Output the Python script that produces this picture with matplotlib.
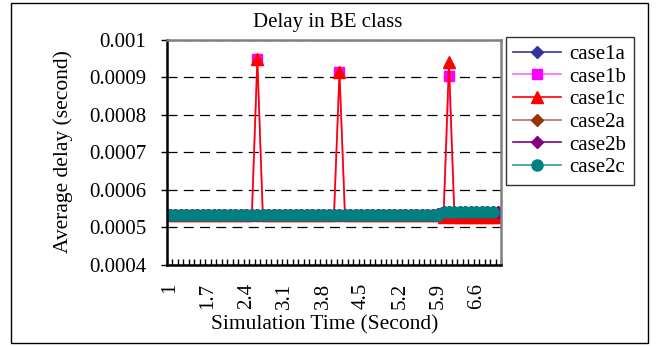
import matplotlib
matplotlib.use('Agg')
import matplotlib.pyplot as plt
import numpy as np
from matplotlib.patches import Rectangle

plt.rcParams['font.family'] = ['Liberation Serif', 'DejaVu Serif']

# Categorias del eje x (tiempo de simulacion)
times = ['1', '1.1', '1.2', '1.3', '1.4', '1.5', '1.6', '1.7', '1.8', '1.9',
         '2', '2.1', '2.2', '2.3', '2.4', '2.5', '2.6', '2.7', '2.8', '2.9',
         '3', '3.1', '3.2', '3.3', '3.4', '3.5', '3.6', '3.7', '3.8', '3.9',
         '4', '4.1', '4.2', '4.3', '4.4', '4.5', '4.6', '4.7', '4.8', '4.9',
         '5', '5.1', '5.2', '5.3', '5.4', '5.5', '5.6', '5.7', '5.8', '5.9',
         '6', '6.1', '6.2', '6.3', '6.4', '6.5', '6.6', '6.7', '6.8', '6.9',
         '7']

case1a = [0.000532, 0.000532, 0.000532, 0.000532, 0.000532, 0.000532, 0.000532, 0.000532, 0.000532, 0.000532,
          0.000532, 0.000532, 0.000532, 0.000532, 0.000532, 0.000532, 0.000532, 0.000532, 0.000532, 0.000532,
          0.000532, 0.000532, 0.000532, 0.000532, 0.000532, 0.000532, 0.000532, 0.000532, 0.000532, 0.000532,
          0.000532, 0.000532, 0.000532, 0.000532, 0.000532, 0.000532, 0.000532, 0.000532, 0.000532, 0.000532,
          0.000532, 0.000532, 0.000532, 0.000532, 0.000532, 0.000532, 0.000532, 0.000532, 0.000532, 0.000532,
          0.000528, 0.000528, 0.000528, 0.000528, 0.000528, 0.000528, 0.000528, 0.000528, 0.000528, 0.000528,
          0.000528]
case1b = [0.000532, 0.000532, 0.000532, 0.000532, 0.000532, 0.000532, 0.000532, 0.000532, 0.000532, 0.000532,
          0.000532, 0.000532, 0.000532, 0.000532, 0.000532, 0.000532, 0.000948, 0.000532, 0.000532, 0.000532,
          0.000532, 0.000532, 0.000532, 0.000532, 0.000532, 0.000532, 0.000532, 0.000532, 0.000532, 0.000532,
          0.000532, 0.000913, 0.000532, 0.000532, 0.000532, 0.000532, 0.000532, 0.000532, 0.000532, 0.000532,
          0.000532, 0.000532, 0.000532, 0.000532, 0.000532, 0.000532, 0.000532, 0.000532, 0.000532, 0.000532,
          0.000528, 0.000903, 0.000528, 0.000528, 0.000528, 0.000528, 0.000528, 0.000528, 0.000528, 0.000528,
          0.000528]
case1c = [0.000532, 0.000532, 0.000532, 0.000532, 0.000532, 0.000532, 0.000532, 0.000532, 0.000532, 0.000532,
          0.000532, 0.000532, 0.000532, 0.000532, 0.000532, 0.000532, 0.000948, 0.000532, 0.000532, 0.000532,
          0.000532, 0.000532, 0.000532, 0.000532, 0.000532, 0.000532, 0.000532, 0.000532, 0.000532, 0.000532,
          0.000532, 0.000913, 0.000532, 0.000532, 0.000532, 0.000532, 0.000532, 0.000532, 0.000532, 0.000532,
          0.000532, 0.000532, 0.000532, 0.000532, 0.000532, 0.000532, 0.000532, 0.000532, 0.000532, 0.000532,
          0.000528, 0.000941, 0.000528, 0.000528, 0.000528, 0.000528, 0.000528, 0.000528, 0.000528, 0.000528,
          0.000528]
case2a = [0.000532, 0.000532, 0.000532, 0.000532, 0.000532, 0.000532, 0.000532, 0.000532, 0.000532, 0.000532,
          0.000532, 0.000532, 0.000532, 0.000532, 0.000532, 0.000532, 0.000532, 0.000532, 0.000532, 0.000532,
          0.000532, 0.000532, 0.000532, 0.000532, 0.000532, 0.000532, 0.000532, 0.000532, 0.000532, 0.000532,
          0.000532, 0.000532, 0.000532, 0.000532, 0.000532, 0.000532, 0.000532, 0.000532, 0.000532, 0.000532,
          0.000532, 0.000532, 0.000532, 0.000532, 0.000532, 0.000532, 0.000532, 0.000532, 0.000532, 0.000536,
          0.000540, 0.000540, 0.000540, 0.000540, 0.000540, 0.000540, 0.000540, 0.000540, 0.000540, 0.000540,
          0.000540]
case2b = [0.000532, 0.000532, 0.000532, 0.000532, 0.000532, 0.000532, 0.000532, 0.000532, 0.000532, 0.000532,
          0.000532, 0.000532, 0.000532, 0.000532, 0.000532, 0.000532, 0.000532, 0.000532, 0.000532, 0.000532,
          0.000532, 0.000532, 0.000532, 0.000532, 0.000532, 0.000532, 0.000532, 0.000532, 0.000532, 0.000532,
          0.000532, 0.000532, 0.000532, 0.000532, 0.000532, 0.000532, 0.000532, 0.000532, 0.000532, 0.000532,
          0.000532, 0.000532, 0.000532, 0.000532, 0.000532, 0.000532, 0.000532, 0.000532, 0.000532, 0.000536,
          0.000540, 0.000540, 0.000540, 0.000540, 0.000540, 0.000540, 0.000540, 0.000540, 0.000540, 0.000540,
          0.000540]
case2c = [0.000532, 0.000532, 0.000532, 0.000532, 0.000532, 0.000532, 0.000532, 0.000532, 0.000532, 0.000532,
          0.000532, 0.000532, 0.000532, 0.000532, 0.000532, 0.000532, 0.000532, 0.000532, 0.000532, 0.000532,
          0.000532, 0.000532, 0.000532, 0.000532, 0.000532, 0.000532, 0.000532, 0.000532, 0.000532, 0.000532,
          0.000532, 0.000532, 0.000532, 0.000532, 0.000532, 0.000532, 0.000532, 0.000532, 0.000532, 0.000532,
          0.000532, 0.000532, 0.000532, 0.000532, 0.000532, 0.000532, 0.000532, 0.000532, 0.000532, 0.000532,
          0.000540, 0.000540, 0.000540, 0.000540, 0.000540, 0.000540, 0.000540, 0.000540, 0.000540, 0.000540]

series = [
    ('case1a', case1a, '#333399', '#333399', 'D', 6),
    ('case1b', case1b, '#FF66FF', '#FF00FF', 's', 7),
    ('case1c', case1c, '#FF0000', '#FF0000', '^', 8),
    ('case2a', case2a, '#B0706A', '#993300', 'D', 6),
    ('case2b', case2b, '#800080', '#800080', 'D', 6),
    ('case2c', case2c, '#339999', '#008080', 'o', 8),
]

fig = plt.figure(figsize=(6.61, 3.46), dpi=100)
ax = fig.add_axes([167 / 661, 1 - 264.5 / 346, 334 / 661, 225 / 346])

for name, values, lcolor, mcolor, marker, msize in series:
    x = np.arange(len(values))
    ax.plot(x, values, color=lcolor, linewidth=1.2, marker=marker,
            markersize=msize, markerfacecolor=mcolor, markeredgecolor=mcolor,
            label=name)

# Eje de categorias al estilo Excel
ax.set_xlim(-0.5, len(times) - 0.5)
ax.set_xticks(np.arange(0, len(times), 7))
ax.set_xticklabels(times[::7], rotation=90, va='top', ha='center')
ax.set_xticks(np.arange(-0.5, len(times), 1), minor=True)
ax.tick_params(axis='x', which='major', length=0, pad=13, labelsize=15)
ax.tick_params(axis='x', which='minor', direction='in', length=4, width=1, color='black')

ax.set_ylim(0.0004, 0.001)
ax.set_yticks([0.0004, 0.0005, 0.0006, 0.0007, 0.0008, 0.0009, 0.001])
ax.set_yticklabels(['0.0004', '0.0005', '0.0006', '0.0007', '0.0008', '0.0009', '0.001'])
ax.tick_params(axis='y', direction='out', length=4, width=1, pad=11, labelsize=15)
ax.yaxis.grid(True, color='black', linestyle=(0, (8, 5)), linewidth=0.9)
ax.set_axisbelow(True)

for side in ['left', 'bottom']:
    ax.spines[side].set_color('black')
    ax.spines[side].set_linewidth(1.8)
for side in ['top', 'right']:
    ax.spines[side].set_color('#808080')
    ax.spines[side].set_linewidth(1.8)

fig.text(328 / 661, 1 - 23 / 346, 'Delay in BE class', ha='center', va='center', fontsize=15)
fig.text(325 / 661, 1 - 325 / 346, 'Simulation Time (Second)', ha='center', va='center', fontsize=15.5)
fig.text(63 / 661, 1 - 152 / 346, 'Average delay (second)', ha='center', va='center',
         rotation=90, fontsize=15.5)

leg = ax.legend(loc='upper left', bbox_to_anchor=(506 / 661, 1 - 37 / 346),
                bbox_transform=fig.transFigure, borderaxespad=0, fontsize=15,
                handlelength=2.3, labelspacing=0.15, frameon=True, fancybox=False,
                borderpad=0.35, handletextpad=0.4)
leg.get_frame().set_edgecolor('black')
leg.get_frame().set_linewidth(1.0)

# Borde del area del grafico
fig.patches.append(Rectangle((11 / 661, 3 / 346), 637 / 661, 340 / 346, transform=fig.transFigure,
                             fill=False, edgecolor='black', linewidth=1.0))

fig.savefig('out.png', dpi=100)
